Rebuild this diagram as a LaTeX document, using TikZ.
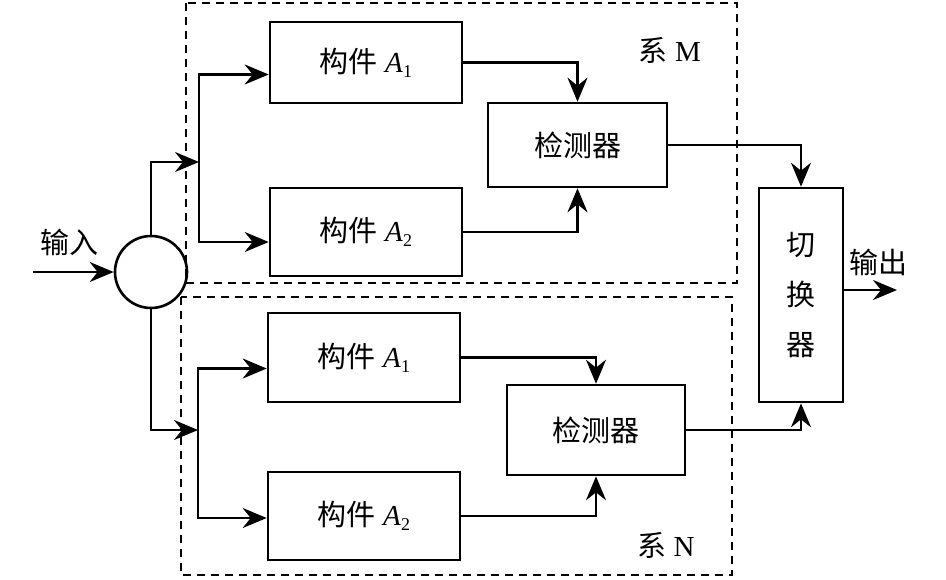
\documentclass[tikz,border=0pt]{standalone}
\usepackage{fontspec}
\setmainfont{Liberation Serif}
\newfontfamily\cjk{Noto Sans CJK SC}
\usetikzlibrary{arrows.meta}
\newcommand\mysub[1]{\raisebox{-0.35ex}{\fontsize{18}{18}\selectfont #1}}
\newcommand\gj[1]{{\cjk 构件}\ \textit{A}\mysub{#1}}
\begin{document}
\begin{tikzpicture}[x=1pt,y=-1pt,
  block/.style={draw, line width=2.6pt, inner sep=0pt, font=\fontsize{29}{34}\selectfont},
  arr/.style={line width=2.6pt, -{Stealth[length=24pt,width=20pt,inset=8pt]}},
  dashbox/.style={line width=2pt, dash pattern=on 8pt off 6pt},
  lbl/.style={font=\fontsize{29}{34}\selectfont, inner sep=0pt}]
\useasboundingbox (0,0) rectangle (946,579);
% dashed boxes
\draw[dashbox] (186,3) rectangle (737,283);
\draw[dashbox] (181,297) rectangle (732,575);
% circle
\node[draw, circle, line width=2.6pt, minimum size=72pt, inner sep=0pt] (c) at (151,272) {};
% blocks
\node[block, minimum width=192pt, minimum height=81pt] (a1) at (366,62.5) {\gj{1}};
\node[block, minimum width=192pt, minimum height=88pt] (a2) at (366,232) {\gj{2}};
\node[block, minimum width=192pt, minimum height=89pt] (b1) at (364,357.5) {\gj{1}};
\node[block, minimum width=192pt, minimum height=88pt] (b2) at (364,516) {\gj{2}};
\node[block, minimum width=179pt, minimum height=84pt] (dm) at (577.5,145) {\cjk 检测器};
\node[block, minimum width=178pt, minimum height=90pt] (dn) at (596,430) {\cjk 检测器};
\node[block, minimum width=84pt, minimum height=214pt, align=center, font=\fontsize{29}{50}\selectfont] (sw) at (801,295) {\cjk 切\\\cjk 换\\\cjk 器};
% labels
\node[lbl] (lin) at (70,242) {\cjk 输入};
\node[lbl] (lout) at (878,262) {\cjk 输出};
\node[lbl] (lm) at (670,50) {{\cjk 系}\ M};
\node[lbl] (ln) at (666,545) {{\cjk 系}\ N};
% coordinates
\coordinate (in) at (33,272);
\coordinate (out) at (897,290);
\coordinate (jm) at (199,162);
\coordinate (jn) at (198,430);
% connectors
\draw[arr] (in) -- (c.west);
\draw[arr] (c.north) |- (jm);
\draw[arr] (jm) |- ([yshift=-12pt]a1.west);
\draw[arr] (jm) |- ([yshift=-10pt]a2.west);
\draw[arr] (c.south) |- (jn);
\draw[arr] (jn) |- ([yshift=-11pt]b1.west);
\draw[arr] (jn) |- ([yshift=-2pt]b2.west);
\draw[arr] (a1.east) -| (dm.north);
\draw[arr] (a2.east) -| (dm.south);
\draw[arr] (b1.east) -| (dn.north);
\draw[arr] (b2.east) -| (dn.south);
\draw[arr] (dm.east) -| (sw.north);
\draw[arr] (dn.east) -| (sw.south);
\draw[arr] (sw.east |- out) -- (out);
\end{tikzpicture}
\end{document}
